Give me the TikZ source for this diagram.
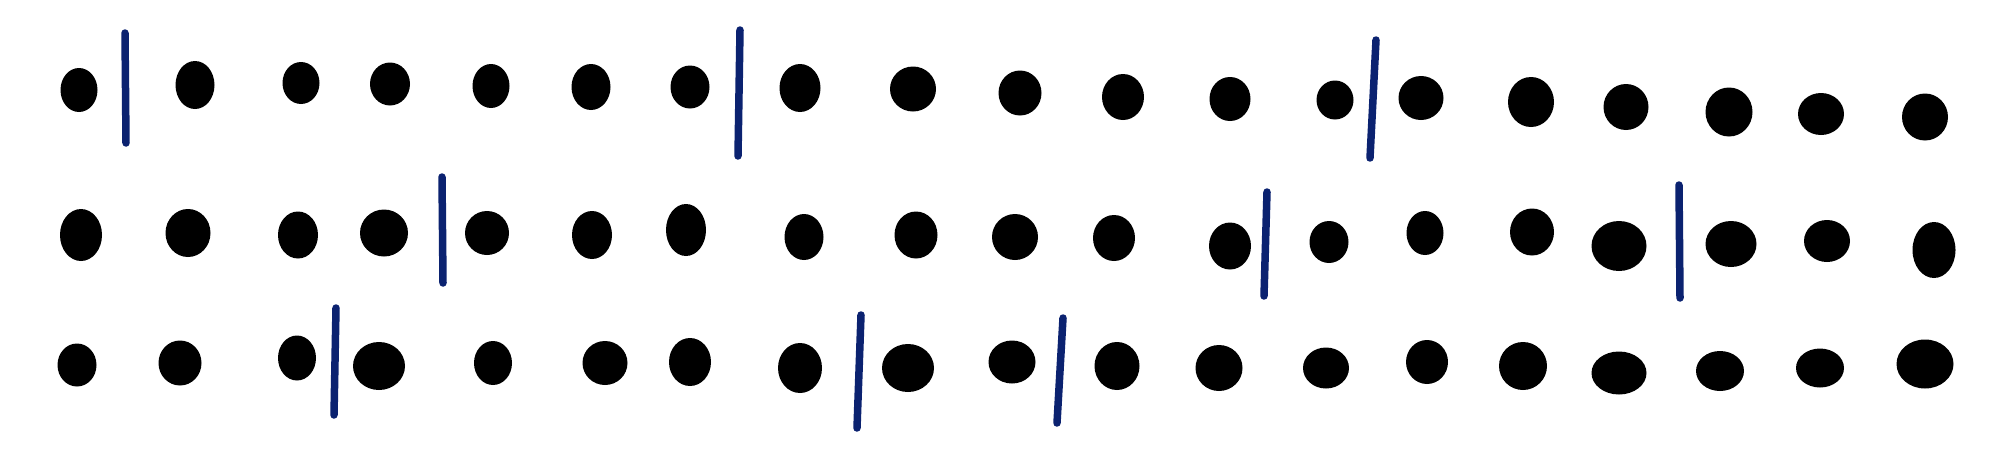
\documentclass[tikz,border=0pt]{standalone}
\usepackage{tikz}
\usetikzlibrary{shapes.geometric}
\definecolor{barblue}{RGB}{11,34,112}

\begin{document}
\begin{tikzpicture}[x=1pt, y=-1pt,
    dot/.style = {ellipse, fill=black, inner sep=0pt},
    bar/.style = {draw=barblue, line width=7.5pt, line cap=round}]

    \useasboundingbox (0,0) rectangle (1990,464);

    \foreach \x/\y/\w/\h [count=\i] in {79/90/37/44, 195/85/39/48, 301/83/37/42, 390/84/40/43, 491/86/37/44, 591/87/39/46, 690/87/39/43, 800/88/41/48, 913/89/46/45, 1020/93/43/45, 1123/97/42/46, 1230/99/41/44, 1335/100/37/39, 1421/98/45/44, 1531/102/46/50, 1626/107/45/46, 1729/112/47/49, 1821/114/46/42, 1925/117/46/47}
        \node[dot, minimum width=\w pt, minimum height=\h pt] (a\i) at (\x,\y) {};

    \foreach \x/\y/\w/\h [count=\i] in {81/235/42/52, 188/233/45/48, 298/235/40/47, 384/233/48/47, 487/233/44/44, 592/235/40/48, 686/230/40/52, 804/237/39/46, 916/235/43/47, 1015/237/46/46, 1114/238/42/46, 1230/246/42/47, 1329/242/39/42, 1425/233/37/44, 1532/232/44/47, 1619/246/55/50, 1731/244/51/46, 1827/241/46/42, 1934/250/43/56}
        \node[dot, minimum width=\w pt, minimum height=\h pt] (b\i) at (\x,\y) {};

    \foreach \x/\y/\w/\h [count=\i] in {77/365/39/43, 180/363/43/45, 297/358/38/45, 379/366/52/48, 493/363/38/44, 605/363/45/44, 690/362/42/48, 800/368/44/50, 908/368/52/48, 1012/362/47/43, 1117/366/45/48, 1219/368/47/46, 1326/368/46/41, 1427/362/42/44, 1523/366/48/48, 1619/373/55/43, 1720/371/48/40, 1820/368/48/39, 1925/364/57/49}
        \node[dot, minimum width=\w pt, minimum height=\h pt] (c\i) at (\x,\y) {};

    \foreach \xa/\ya/\xb/\yb in {125/33/126/143, 740/30/738/156, 1376/40/1370/158, 442/177/443/283, 1267/192/1264/296, 1679/185/1680/298, 336/308/334/415, 861/315/857/428, 1063/318/1057/423}
        \draw[bar] (\xa,\ya) -- (\xb,\yb);

\end{tikzpicture}
\end{document}
